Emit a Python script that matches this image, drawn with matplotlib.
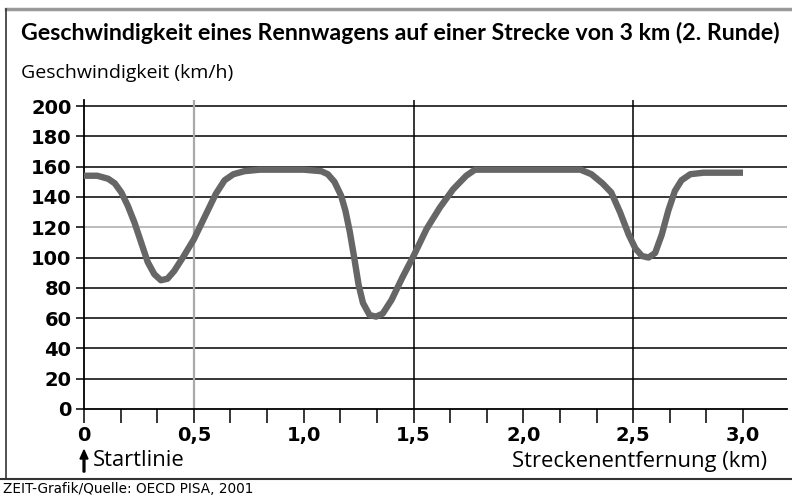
import numpy as np
import matplotlib.pyplot as plt
from matplotlib.lines import Line2D
from matplotlib.patches import FancyArrow

# Streckenentfernung (km) und Geschwindigkeit (km/h)
distance = [0.00, 0.06, 0.11, 0.14, 0.17, 0.20, 0.23, 0.26, 0.29, 0.32, 0.35, 0.38,
            0.41, 0.45, 0.50, 0.55, 0.60, 0.64, 0.68, 0.73, 0.80, 0.90, 1.00, 1.08,
            1.11, 1.14, 1.17, 1.19, 1.21, 1.23, 1.25, 1.27, 1.30, 1.33, 1.36, 1.40,
            1.45, 1.50, 1.56, 1.62, 1.68, 1.74, 1.78, 1.90, 2.10, 2.26, 2.31, 2.36,
            2.40, 2.44, 2.48, 2.51, 2.54, 2.57, 2.60, 2.63, 2.66, 2.69, 2.72, 2.76,
            2.82, 2.90, 3.00]
speed = [154, 154, 152, 149, 143, 134, 123, 110, 97, 89, 85, 86,
         91, 100, 112, 127, 142, 151, 155, 157, 158, 158, 158, 157,
         155, 150, 141, 131, 117, 100, 82, 70, 62, 61, 63, 72,
         87, 101, 119, 133, 145, 154, 158, 158, 158, 158, 155, 149,
         143, 130, 115, 106, 101, 100, 103, 115, 131, 144, 151, 155,
         156, 156, 156]

y_ticks = list(range(0, 201, 20))
x_labels = ['0', '0,5', '1,0', '1,5', '2,0', '2,5', '3,0']
x_major = [0, 0.5, 1.0, 1.5, 2.0, 2.5, 3.0]
x_minor = [k / 6 for k in range(19)]

W, H = 792, 495
fig = plt.figure(figsize=(W / 100, H / 100), dpi=100)

# axes placed in pixel coordinates of the reference
ax = fig.add_axes([84 / W, (H - 409) / H, 703 / W, 309 / H])
ax.set_xlim(0, 3 * 703 / 659)
ax.set_ylim(0, 204)

for s in ['top', 'right']:
    ax.spines[s].set_visible(False)
ax.spines['left'].set_linewidth(1.3)
ax.spines['bottom'].set_linewidth(1.3)

# grid
for v in y_ticks[1:]:
    ax.axhline(v, color='#aaaaaa' if v == 120 else 'black', lw=1.1, zorder=1)
ax.axvline(0.5, color='#aaaaaa', lw=1.6, zorder=1)
ax.axvline(1.5, color='black', lw=1.1, zorder=1)
ax.axvline(2.5, color='black', lw=1.1, zorder=1)

ax.plot(distance, speed, color='#666666', lw=4.6, solid_capstyle='butt', zorder=3)

bold = dict(family='DejaVu Sans', weight='bold', size=14)
ax.set_yticks(y_ticks)
ax.set_yticklabels([str(v) for v in y_ticks], fontdict=bold)
ax.tick_params(axis='y', length=6, width=1.1, pad=3)

ax.set_xticks(x_major)
ax.set_xticklabels(x_labels, fontdict=bold)
ax.set_xticks(x_minor, minor=True)
ax.tick_params(axis='x', which='both', length=10, width=1.1, pad=2.5)
for t in ax.xaxis.get_major_ticks():
    if t.get_loc() == 0.5:
        t.tick1line.set_color('#aaaaaa')

# frame around the graphic
fig.add_artist(Line2D([6 / W, 1], [1 - 9 / H, 1 - 9 / H], color='#999999', lw=2.5))
fig.add_artist(Line2D([6 / W, 6 / W], [1 - 9 / H, 1 - 479 / H], color='#333333', lw=1.2))
fig.add_artist(Line2D([0, 1], [1 - 479 / H, 1 - 479 / H], color='#333333', lw=1.5))

fig.text(21 / W, 1 - 33 / H, 'Geschwindigkeit eines Rennwagens auf einer Strecke von 3 km (2. Runde)',
         family='Lato', weight='bold', size=16.7, va='center', ha='left')
fig.text(21 / W, 1 - 73 / H, 'Geschwindigkeit (km/h)', family='Open Sans', size=14,
         va='center', ha='left')
fig.text(93 / W, 1 - 461 / H, 'Startlinie', family='Open Sans', size=15.8, va='center', ha='left')
fig.text(767 / W, 1 - 461 / H, 'Streckenentfernung (km)', family='Open Sans', size=15.8,
         va='center', ha='right')
fig.text(3 / W, 1 - 489 / H, 'ZEIT-Grafik/Quelle: OECD PISA, 2001', family='Liberation Sans Narrow',
         size=9.8, va='center', ha='left')

fig.add_artist(FancyArrow(
    84 / W, 1 - 472 / H, 0, 22 / H, width=1.8 / W, head_width=8 / W, head_length=9 / H,
    length_includes_head=True, color='black', transform=fig.transFigure))

fig.savefig('out.png', dpi=100)
